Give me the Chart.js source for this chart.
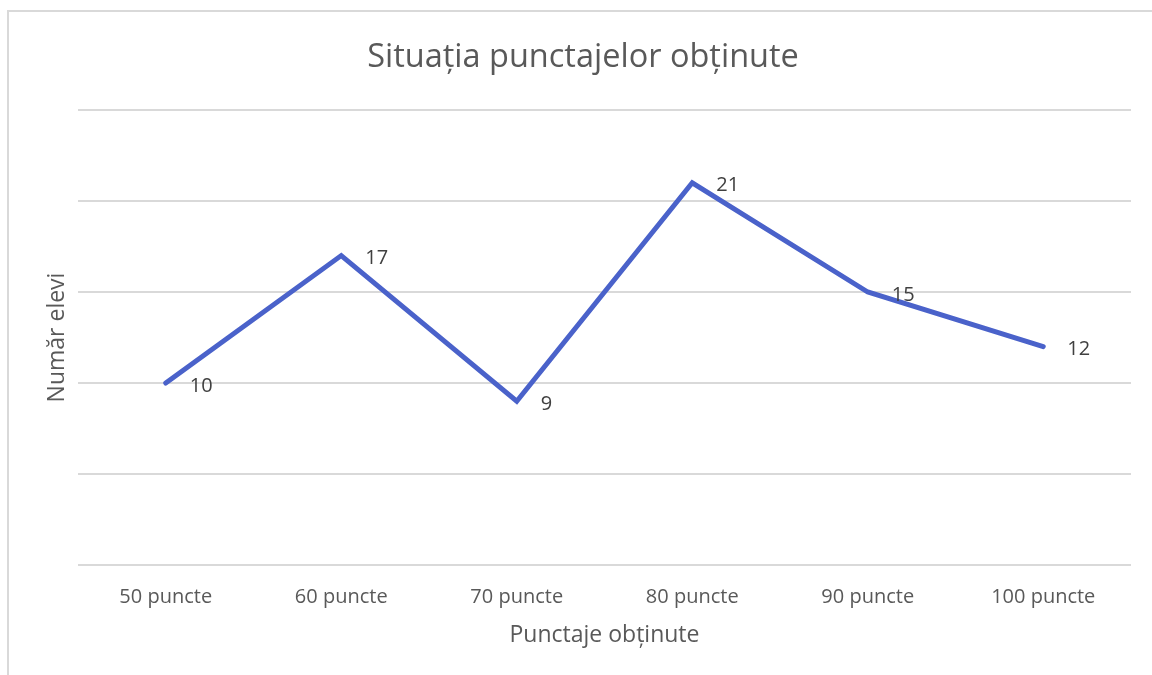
<!DOCTYPE html>
<html>
<head>
<meta charset="utf-8">
<script src="https://cdn.jsdelivr.net/npm/chart.js@4/dist/chart.umd.min.js"></script>
<style>
html,body{margin:0;padding:0;background:#fff;overflow:hidden;}
#wrap{position:relative;width:1152px;height:675px;}
#frame{position:absolute;left:7px;top:10px;width:1200px;height:700px;border:2px solid #d9d9d9;box-sizing:border-box;}
canvas{position:absolute;left:0;top:0;}
</style>
</head>
<body>
<div id="wrap">
<div id="frame"></div>
<canvas id="c" width="1152" height="675"></canvas>
</div>
<script>
const categories = ["50 puncte","60 puncte","70 puncte","80 puncte","90 puncte","100 puncte"];
const values = [10, 17, 9, 21, 15, 12];
const chartTitle = "Situația punctajelor obținute";
const xTitle = "Punctaje obținute";
const yTitle = "Număr elevi";

const FONT = "'Open Sans', 'Noto Sans', sans-serif";

const titlePlugin = {
  id: 'customTitle',
  afterDraw(chart) {
    const ctx = chart.ctx;
    ctx.save();
    ctx.font = "32.5px " + FONT;
    ctx.fillStyle = "#595959";
    ctx.textAlign = "center";
    ctx.textBaseline = "alphabetic";
    ctx.fillText(chartTitle, 583, 67);
    ctx.restore();
  }
};

const labelPlugin = {
  id: 'pointLabels',
  afterDatasetsDraw(chart) {
    const ctx = chart.ctx;
    const meta = chart.getDatasetMeta(0);
    ctx.save();
    ctx.font = "20px " + FONT;
    ctx.fillStyle = "#404040";
    ctx.textAlign = "left";
    ctx.textBaseline = "alphabetic";
    meta.data.forEach((pt, i) => {
      ctx.fillText(String(values[i]), pt.x + 24, pt.y + 8.5);
    });
    ctx.restore();
  }
};

new Chart(document.getElementById('c'), {
  type: 'line',
  data: {
    labels: categories,
    datasets: [{
      data: values,
      borderColor: '#4A62CA',
      borderWidth: 5,
      pointRadius: 0,
      pointHoverRadius: 0,
      tension: 0,
      fill: false,
      borderCapStyle: 'round',
      borderJoinStyle: 'miter'
    }]
  },
  options: {
    responsive: false,
    animation: false,
    events: [],
    layout: { padding: { top: 110, right: 21, bottom: 26, left: 0 } },
    plugins: {
      legend: { display: false },
      tooltip: { enabled: false },
      title: { display: false }
    },
    scales: {
      x: {
        offset: true,
        grid: { display: false, drawTicks: false },
        border: { display: false },
        ticks: { color: '#595959', font: { family: FONT, size: 20 }, padding: 20, maxRotation: 0 },
        title: { display: true, text: xTitle, color: '#595959', font: { family: FONT, size: 23 }, padding: { top: 4, bottom: 0 } },
        afterFit(scale) { scale.height = 84; }
      },
      y: {
        min: 0, max: 25,
        ticks: { display: false, stepSize: 5 },
        grid: { color: '#d9d9d9', lineWidth: 2, drawTicks: false },
        border: { display: false },
        title: { display: true, text: yTitle, color: '#595959', font: { family: FONT, size: 23 }, padding: { top: 44, bottom: 0 } },
        afterFit(scale) { scale.width = 78; }
      }
    }
  },
  plugins: [labelPlugin, titlePlugin]
});
</script>
</body>
</html>
